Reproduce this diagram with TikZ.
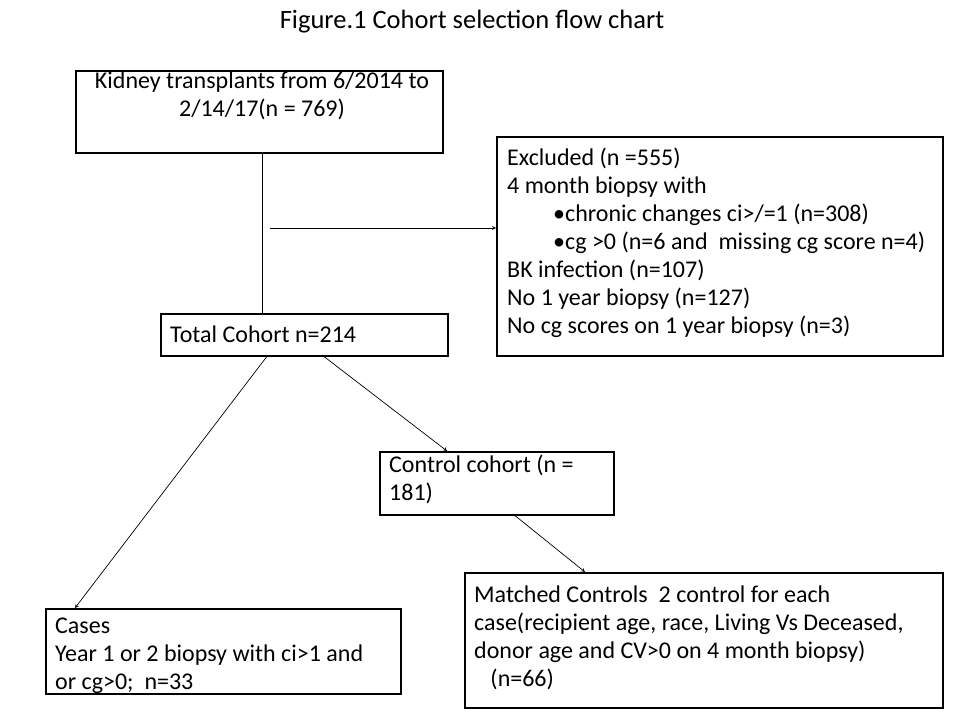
\documentclass[tikz,border=0pt]{standalone}
\usepackage{fontspec}
\setmainfont{Carlito}
\begin{document}
\begin{tikzpicture}[x=1pt,y=-1pt,
 box/.style={draw,line width=1.6pt,inner sep=0pt},
 txt/.style={anchor=north west,align=left,inner sep=0pt,font=\fontsize{24}{28}\selectfont},
 con/.style={line width=0.7pt},
 arr/.style={con,->,>=stealth}]
\useasboundingbox (0,0) rectangle (960,720);
\node[font=\fontsize{26.5}{30}\selectfont] (title) at (472,22) {Figure.1 Cohort selection flow chart};
\node[box,minimum width=367,minimum height=82,anchor=north west] (k) at (75,70) {};
\node[align=center,inner sep=0pt,font=\fontsize{24}{28}\selectfont,anchor=north] (kt) at (262,72) {Kidney transplants from 6/2014 to\\2/14/17(n = 769)};
\node[box,minimum width=446,minimum height=219,anchor=north west] (e) at (496,136) {};
\node[txt] (et) at (507,148) {Excluded (n =555)\\4 month biopsy with\\\hspace{46pt}\textbullet chronic changes ci>/=1 (n=308)\\\hspace{46pt}\textbullet cg >0 (n=6 and\ \ missing cg score n=4)\\BK infection (n=107)\\No 1 year biopsy (n=127)\\No cg scores on 1 year biopsy (n=3)};
\node[box,minimum width=287,minimum height=42,anchor=north west] (t) at (160,313) {};
\node[txt,anchor=west] (tt) at (170,334) {Total Cohort n=214};
\node[box,minimum width=234,minimum height=63,anchor=north west] (c) at (379,451) {};
\node[txt] (ct) at (389,455) {Control cohort (n =\\181)};
\node[box,minimum width=355,minimum height=85,anchor=north west] (a) at (45,608) {};
\node[txt] (at) at (55,618) {Cases\\Year 1 or 2 biopsy with ci>1 and\\or cg>0;\ \ n=33};
\node[box,minimum width=478,minimum height=135,anchor=north west] (m) at (464,572) {};
\node[txt] (mt) at (474,586) {Matched Controls\ \ 2 control for each\\case(recipient age, race, Living Vs Deceased,\\donor age and CV>0 on 4 month biopsy)\\\ \ \ (n=66)};
\coordinate (j) at (262,228);
\coordinate (j2) at (270,228);
\draw[con] (k.south -| j) -- (t.north -| j);
\draw[arr] (j2) -- (e.west |- j2);
\draw[arr] (268,355) -- (75,608);
\draw[arr] (322,355) -- (447,451);
\draw[arr] (513,514) -- (585,572);
\end{tikzpicture}
\end{document}
